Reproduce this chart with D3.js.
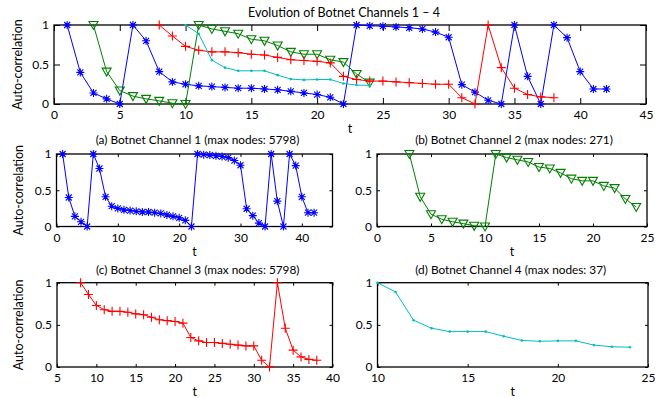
<!DOCTYPE html>
<html>
<head>
<meta charset="utf-8">
<script src="https://cdn.jsdelivr.net/npm/d3@7"></script>
<style>
  body { margin: 0; background: #fff; }
  text { font-family: Lato, "Open Sans", sans-serif; fill: #000; }
</style>
</head>
<body>
<svg id="chart" width="662" height="398"></svg>
<script>
// auto-correlation per channel, t starts at chNStart and goes up by 1
const ch1Start = 1;
const ch1 = [1.0, 0.40, 0.14, 0.065, 0, 1, 0.80, 0.41, 0.28, 0.25, 0.23, 0.22, 0.21, 0.20, 0.20,
  0.19, 0.18, 0.16, 0.14, 0.12, 0.085, 0, 1, 0.99, 0.985, 0.975, 0.965, 0.95, 0.91, 0.845,
  0.245, 0.15, 0.047, 0, 1, 0.35, 0, 1, 0.84, 0.41, 0.19, 0.19];
const ch2Start = 3;
const ch2 = [1, 0.41, 0.17, 0.10, 0.065, 0.04, 0.01, 0, 1, 0.95, 0.92, 0.89, 0.82, 0.80, 0.74,
  0.66, 0.63, 0.63, 0.56, 0.53, 0.38, 0.27];
const ch3Start = 8;
const ch3 = [1, 0.86, 0.73, 0.68, 0.66, 0.66, 0.65, 0.63, 0.62, 0.59, 0.56, 0.55, 0.54, 0.52,
  0.35, 0.31, 0.29, 0.29, 0.28, 0.27, 0.26, 0.25, 0.25, 0.08, 0, 1, 0.46, 0.20, 0.12, 0.09, 0.08];
const ch4Start = 10;
const ch4 = [1, 0.89, 0.555, 0.46, 0.42, 0.42, 0.42, 0.365, 0.315, 0.305, 0.31, 0.31, 0.26, 0.24, 0.235];

const mainTitle = 'Evolution of Botnet Channels 1 \u2013 4';
const subTitles = ['(a) Botnet Channel 1 (max nodes: 5798)', '(b) Botnet Channel 2 (max nodes: 271)',
  '(c) Botnet Channel 3 (max nodes: 5798)', '(d) Botnet Channel 4 (max nodes: 37)'];
const yTicks = [0, 0.5, 1];

const series = [
  { start: ch1Start, vals: ch1, color: '#0000ff', marker: 'star' },
  { start: ch2Start, vals: ch2, color: '#008000', marker: 'tri' },
  { start: ch3Start, vals: ch3, color: '#ff0000', marker: 'plus' },
  { start: ch4Start, vals: ch4, color: '#00bfbf', marker: 'dot' }
];

const markerPath = {
  star: 'M-4,0H4M0,-4V4M-3,-3L3,3M-3,3L3,-3',
  tri: 'M-4.5,-3.5H4.5L0,4.5Z',
  plus: 'M-4.5,0H4.5M0,-4.5V4.5'
};

const svg = d3.select('#chart');

function drawPanel(p) {
  const x = d3.scaleLinear().domain(p.xDomain).range([p.x0, p.x1]);
  const y = d3.scaleLinear().domain([0, 1]).range([p.y1, p.y0]);
  const g = svg.append('g');

  const bottom = d3.axisBottom(x).tickValues(p.xTicks).tickSizeInner(-p.tick).tickSizeOuter(0).tickPadding(6.5).tickFormat(d3.format('d'));
  const top = d3.axisTop(x).tickValues(p.xTicks).tickSizeInner(-p.tick).tickSizeOuter(0).tickFormat('');
  const left = d3.axisLeft(y).tickValues(yTicks).tickSizeInner(-p.tick).tickSizeOuter(0).tickPadding(5).tickFormat(d => d === 0.5 ? '0.5' : d3.format('d')(d));
  const right = d3.axisRight(y).tickValues(yTicks).tickSizeInner(-p.tick).tickSizeOuter(0).tickFormat('');

  [[bottom, `translate(0,${p.y1})`], [top, `translate(0,${p.y0})`],
   [left, `translate(${p.x0},0)`], [right, `translate(${p.x1},0)`]].forEach(([ax, tr]) => {
    const a = g.append('g').attr('transform', tr).call(ax);
    a.select('.domain').remove();
    a.selectAll('line').attr('stroke', '#000').attr('stroke-width', 1);
    a.selectAll('text').attr('font-size', 12).attr('font-family', 'Lato, sans-serif').attr('fill', '#000');
  });

  g.append('rect')
    .attr('x', p.x0).attr('y', p.y0)
    .attr('width', p.x1 - p.x0).attr('height', p.y1 - p.y0)
    .attr('fill', 'none').attr('stroke', '#000').attr('stroke-width', 1.3);

  p.series.forEach(s => {
    const pts = s.vals.map((v, i) => [s.start + i, v]);
    g.append('path')
      .datum(pts)
      .attr('fill', 'none')
      .attr('stroke', s.color)
      .attr('stroke-width', 1)
      .attr('d', d3.line().x(d => x(d[0])).y(d => y(d[1])));
    if (s.marker === 'dot') {
      g.append('g').selectAll('circle').data(pts).enter().append('circle')
        .attr('cx', d => x(d[0])).attr('cy', d => y(d[1])).attr('r', 1.3)
        .attr('fill', s.color);
    } else {
      g.append('g').selectAll('path').data(pts).enter().append('path')
        .attr('transform', d => `translate(${x(d[0])},${y(d[1])})`)
        .attr('d', markerPath[s.marker])
        .attr('fill', 'none').attr('stroke', s.color).attr('stroke-width', 1.1);
    }
  });

  g.append('text')
    .attr('x', (p.x0 + p.x1) / 2 + p.titleShift).attr('y', p.titleY)
    .attr('text-anchor', 'middle').attr('font-size', p.titleSize)
    .text(p.title);
  g.append('text')
    .attr('x', (p.x0 + p.x1) / 2).attr('y', p.tY)
    .attr('text-anchor', 'middle').attr('font-size', 12.5)
    .text('t');
  if (p.yLabel) {
    g.append('text')
      .attr('transform', `translate(${p.yLabelX},${(p.y0 + p.y1) / 2}) rotate(-90)`)
      .attr('text-anchor', 'middle').attr('font-size', 12.5)
      .text('Auto-correlation');
  }
}

const panels = [
  { x0: 54, x1: 646, y0: 25, y1: 104, xDomain: [0, 45], xTicks: d3.range(0, 46, 5), tick: 6,
    series: series, title: mainTitle, titleSize: 12.5, titleY: 17, titleShift: -6, tY: 133, yLabel: true, yLabelX: 22 },
  { x0: 56.5, x1: 332.5, y0: 154, y1: 226.5, xDomain: [0, 45], xTicks: [0, 10, 20, 30, 40], tick: 3,
    series: [series[0]], title: subTitles[0], titleSize: 11.8, titleY: 144, titleShift: 3, tY: 256, yLabel: true, yLabelX: 23 },
  { x0: 377, x1: 647, y0: 154, y1: 226.5, xDomain: [0, 25], xTicks: d3.range(0, 26, 5), tick: 3,
    series: [series[1]], title: subTitles[1], titleSize: 11.8, titleY: 144, titleShift: 2, tY: 256, yLabel: false },
  { x0: 57, x1: 332.5, y0: 282.7, y1: 367, xDomain: [5, 40], xTicks: d3.range(5, 41, 5), tick: 3,
    series: [series[2]], title: subTitles[2], titleSize: 11.8, titleY: 273.5, titleShift: 3, tY: 396, yLabel: true, yLabelX: 23 },
  { x0: 377.5, x1: 648, y0: 282.7, y1: 367, xDomain: [10, 25], xTicks: d3.range(10, 26, 5), tick: 3,
    series: [series[3]], title: subTitles[3], titleSize: 11.8, titleY: 273.5, titleShift: -2, tY: 396, yLabel: false }
];

panels.forEach(drawPanel);
</script>
</body>
</html>
